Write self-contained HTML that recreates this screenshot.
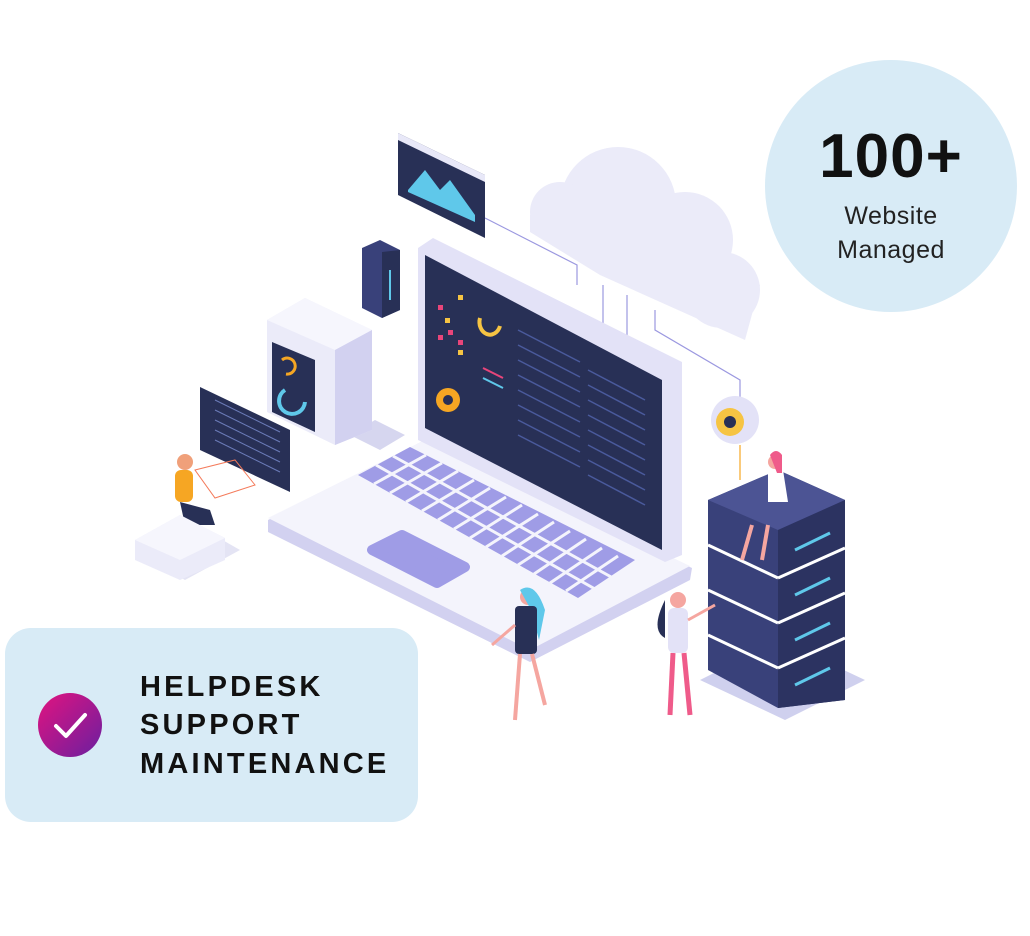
<!DOCTYPE html>
<html><head><meta charset="utf-8"><style>
html,body{margin:0;padding:0;background:#fff;}
body{width:1030px;height:936px;position:relative;overflow:hidden;font-family:"Liberation Sans",sans-serif;}
.circle{position:absolute;left:765px;top:60px;width:252px;height:252px;border-radius:50%;background:#d8ebf6;text-align:center;color:#111;}
.big{position:absolute;left:0;right:0;top:66px;font-size:62px;font-weight:bold;line-height:1;letter-spacing:1px;}
.sm{position:absolute;left:0;right:0;top:139px;font-size:25px;line-height:34px;color:#222;letter-spacing:0.5px;}
.box{position:absolute;left:5px;top:628px;width:413px;height:194px;border-radius:26px;background:#d8ebf6;}
.chk{position:absolute;left:38px;top:693px;width:64px;height:64px;border-radius:50%;background:linear-gradient(135deg,#e2137f,#6a1fa0);}
.t{position:absolute;left:140px;font-size:29px;font-weight:bold;letter-spacing:3.2px;color:#111;line-height:1;}
</style></head><body>
<svg width="1030" height="936" style="position:absolute;left:0;top:0">
<polygon points="150,560 205,530 240,550 185,580" fill="#e4e4f4"/>
<polygon points="350,435 375,420 405,435 380,450" fill="#d6d6ef"/>
<polygon points="700,680 780,640 865,680 785,720" fill="#cfd0ee"/>
<g fill="#ebebf9">
<circle cx="618" cy="205" r="58"/><circle cx="560" cy="212" r="30"/><circle cx="685" cy="240" r="48"/><circle cx="722" cy="290" r="38"/>
<polygon points="530,215 600,180 760,285 745,340 600,275 530,232"/>
</g>
<g stroke="#9b98e0" stroke-width="1.2" fill="none">
<polyline points="485,218 577,265 577,285"/><line x1="603" y1="285" x2="603" y2="330"/><line x1="627" y1="295" x2="627" y2="345"/><polyline points="655,310 655,330 740,380 740,400"/>
</g>
<polygon points="398,133 485,175 485,238 398,195" fill="#283056"/>
<polygon points="398,133 485,175 485,182 398,140" fill="#e8e8f8"/>
<polygon points="408,190 425,170 440,190 450,180 475,215 475,222 408,192" fill="#5fc8ea"/>
<polygon points="362,248 380,240 400,250 400,310 382,318 362,308" fill="#39417a"/>
<polygon points="382,252 400,250 400,310 382,318" fill="#283056"/>
<line x1="390" y1="270" x2="390" y2="300" stroke="#5fc8ea" stroke-width="2"/>
<polygon points="267,320 305,298 372,330 372,430 335,445 267,412" fill="#ebebf9"/>
<polygon points="267,320 305,298 372,330 335,350" fill="#f6f6fd"/>
<polygon points="335,350 372,330 372,430 335,445" fill="#d2d1f0"/>
<polygon points="272,342 315,360 315,432 272,412" fill="#283056"/>
<path d="M282,360 a8,8 0 1,1 4,14" stroke="#f6a623" stroke-width="3" fill="none"/>
<path d="M285,390 a13,13 0 1,0 20,12" stroke="#5fc8ea" stroke-width="4" fill="none"/>
<polygon points="200,387 290,430 290,492 200,450" fill="#283056"/>
<g stroke="#6b7bb8" stroke-width="1">
<line x1="215" y1="400" x2="280" y2="432"/><line x1="215" y1="410" x2="280" y2="442"/><line x1="215" y1="420" x2="280" y2="452"/><line x1="215" y1="430" x2="280" y2="462"/><line x1="215" y1="440" x2="280" y2="472"/></g>
<polygon points="268,520 425,440 692,568 690,580 530,662 268,532" fill="#d2d1f0"/>
<polygon points="268,518 425,440 690,566 530,650" fill="#f4f4fc"/>
<polygon points="358,475 410,447 635,560 578,598" fill="#9f9ce6"/>
<g stroke="#f4f4fc" stroke-width="3">
<line x1="376" y1="465" x2="595" y2="589"/><line x1="393" y1="456" x2="613" y2="578"/><line x1="374" y1="484" x2="426" y2="455"/><line x1="390" y1="493" x2="442" y2="463"/><line x1="406" y1="502" x2="458" y2="471"/><line x1="422" y1="511" x2="474" y2="480"/><line x1="438" y1="520" x2="490" y2="488"/><line x1="454" y1="529" x2="506" y2="497"/><line x1="470" y1="538" x2="522" y2="505"/><line x1="486" y1="547" x2="538" y2="514"/><line x1="502" y1="556" x2="554" y2="522"/><line x1="518" y1="565" x2="570" y2="531"/><line x1="534" y1="574" x2="586" y2="539"/><line x1="550" y1="583" x2="602" y2="548"/><line x1="566" y1="591" x2="618" y2="556"/>
</g>
<polygon points="372,550 402,535 465,567 437,583" fill="#9f9ce6" stroke="#9f9ce6" stroke-width="10" stroke-linejoin="round"/>
<polygon points="418,248 433,238 682,362 682,555 665,562 418,440" fill="#e3e2f7"/>
<polygon points="425,255 662,380 662,550 425,428" fill="#283056"/>
<g fill="#e8457a"><rect x="438" y="305" width="5" height="5"/><rect x="448" y="330" width="5" height="5"/><rect x="438" y="335" width="5" height="5"/><rect x="458" y="340" width="5" height="5"/></g>
<g fill="#f6c443"><rect x="458" y="295" width="5" height="5"/><rect x="445" y="318" width="5" height="5"/><rect x="458" y="350" width="5" height="5"/></g>
<path d="M480,318 a10,12 0 1,0 20,8" stroke="#f6c443" stroke-width="4" fill="none"/>
<circle cx="448" cy="400" r="12" fill="#f6a623"/><circle cx="448" cy="400" r="5" fill="#283056"/>
<g stroke="#4a5a9c" stroke-width="1.5">
<line x1="518" y1="330" x2="580" y2="362"/><line x1="518" y1="345" x2="580" y2="377"/><line x1="518" y1="360" x2="580" y2="392"/><line x1="518" y1="375" x2="580" y2="407"/><line x1="518" y1="390" x2="580" y2="422"/><line x1="518" y1="405" x2="580" y2="437"/><line x1="518" y1="420" x2="580" y2="452"/><line x1="518" y1="435" x2="580" y2="467"/>
<line x1="588" y1="370" x2="645" y2="400"/><line x1="588" y1="385" x2="645" y2="415"/><line x1="588" y1="400" x2="645" y2="430"/><line x1="588" y1="415" x2="645" y2="445"/><line x1="588" y1="430" x2="645" y2="460"/><line x1="588" y1="445" x2="645" y2="475"/><line x1="588" y1="460" x2="645" y2="490"/><line x1="588" y1="475" x2="645" y2="505"/></g>
<line x1="483" y1="368" x2="503" y2="378" stroke="#e8457a" stroke-width="2"/><line x1="483" y1="378" x2="503" y2="388" stroke="#5fc8ea" stroke-width="2"/>
<circle cx="735" cy="420" r="24" fill="#e3e2f7"/><circle cx="730" cy="422" r="14" fill="#f6c443"/><circle cx="730" cy="422" r="6" fill="#283056"/>
<line x1="740" y1="445" x2="740" y2="480" stroke="#f6a623" stroke-width="1.2"/>
<g>
<polygon points="708,500 778,470 845,500 845,700 778,708 708,670" fill="#39417a"/>
<polygon points="708,500 778,470 845,500 778,530" fill="#4c5494"/>
<polygon points="778,530 845,500 845,700 778,708" fill="#2c3361"/>
<g stroke="#fff" stroke-width="3"><line x1="708" y1="545" x2="778" y2="578"/><line x1="708" y1="590" x2="778" y2="623"/><line x1="708" y1="635" x2="778" y2="668"/><line x1="778" y1="578" x2="845" y2="548"/><line x1="778" y1="623" x2="845" y2="593"/><line x1="778" y1="668" x2="845" y2="638"/></g>
<g stroke="#5fc8ea" stroke-width="3"><line x1="795" y1="550" x2="830" y2="533"/><line x1="795" y1="595" x2="830" y2="578"/><line x1="795" y1="640" x2="830" y2="623"/><line x1="795" y1="685" x2="830" y2="668"/></g>
</g>
<circle cx="775" cy="462" r="7" fill="#f5a6a0"/><path d="M768,470 l15,0 l5,32 l-20,0z" fill="#fff"/><path d="M770,455 q6,-8 12,0 l0,18 l-5,0z" fill="#ef5b8a"/><line x1="752" y1="525" x2="742" y2="560" stroke="#f5a6a0" stroke-width="4"/><line x1="768" y1="525" x2="762" y2="560" stroke="#f5a6a0" stroke-width="4"/>
<circle cx="185" cy="462" r="8" fill="#f0a07a"/><rect x="175" y="470" width="18" height="32" rx="6" fill="#f6a623"/><path d="M180,502 l30,8 l5,15 l-30,0z" fill="#283056"/>
<polygon points="195,470 235,460 255,485 215,498" fill="none" stroke="#f47a5a" stroke-width="1"/>
<polygon points="135,540 180,515 225,538 225,560 180,580 135,560" fill="#ebebf9"/><polygon points="135,540 180,515 225,538 180,560" fill="#f6f6fd"/>
<circle cx="528" cy="597" r="8" fill="#f5a6a0"/><path d="M520,590 q15,-10 25,20 l-6,30 l-8,-30z" fill="#5fc8ea"/><rect x="515" y="606" width="22" height="48" rx="4" fill="#283056"/><line x1="520" y1="654" x2="515" y2="720" stroke="#f5a6a0" stroke-width="4"/><line x1="532" y1="654" x2="545" y2="705" stroke="#f5a6a0" stroke-width="4"/><line x1="515" y1="625" x2="492" y2="645" stroke="#f5a6a0" stroke-width="3"/>
<circle cx="678" cy="600" r="8" fill="#f5a6a0"/><path d="M665,600 q-15,30 0,38 z" fill="#283056"/><rect x="668" y="608" width="20" height="45" rx="6" fill="#e3e2f7"/><line x1="673" y1="653" x2="670" y2="715" stroke="#ef5b8a" stroke-width="5"/><line x1="684" y1="653" x2="690" y2="715" stroke="#ef5b8a" stroke-width="5"/><line x1="688" y1="620" x2="715" y2="605" stroke="#f5a6a0" stroke-width="3"/>
</svg>
<div class="circle"><div class="big">100+</div><div class="sm">Website<br>Managed</div></div>
<div class="box"></div>
<div class="chk"><svg width="64" height="64"><polyline points="18,33 28,43 47,22" stroke="#fff" stroke-width="4" fill="none" stroke-linecap="round" stroke-linejoin="round"/></svg></div>
<div class="t" style="top:673px">HELPDESK</div>
<div class="t" style="top:711px">SUPPORT</div>
<div class="t" style="top:750px">MAINTENANCE</div>
</body></html>
